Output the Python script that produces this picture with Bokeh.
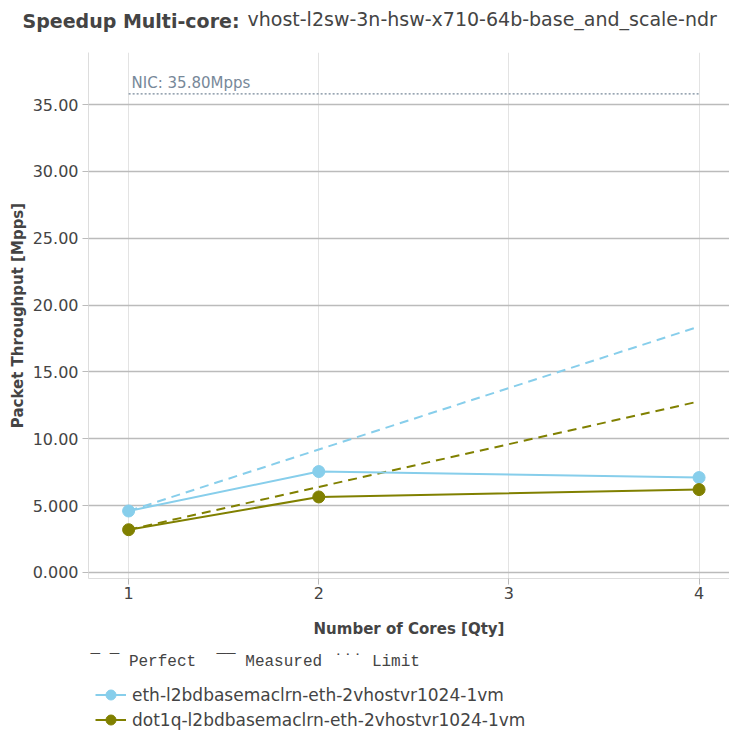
from bokeh.plotting import figure
from bokeh.layouts import column
from bokeh.models import (Range1d, FixedTicker, Label, Legend, LegendItem)
from bokeh.embed import file_html
from bokeh.resources import INLINE

cores = [1, 2, 4]
eth_measured = [4.6, 7.55, 7.1]
dot1q_measured = [3.2, 5.65, 6.2]
eth_perfect = [4.6, 9.2, 18.4]
dot1q_perfect = [3.2, 6.4, 12.8]
nic_x = [1, 4]
nic_limit = [35.8, 35.8]
y_ticks = [0, 5, 10, 15, 20, 25, 30, 35]
y_tick_labels = ["0.000", "5.000", "10.00", "15.00", "20.00", "25.00", "30.00", "35.00"]
x_ticks = [1, 2, 3, 4]
eth_name = "eth-l2bdbasemaclrn-eth-2vhostvr1024-1vm"
dot1q_name = "dot1q-l2bdbasemaclrn-eth-2vhostvr1024-1vm"
title_bold = "Speedup Multi-core:"
title_rest = "vhost-l2sw-3n-hsw-x710-64b-base_and_scale-ndr"
style_keys = ["\u00af \u00af Perfect", "\u00af\u00af Measured", "\u02d9\u02d9\u02d9 Limit"]

TXT = "#444444"
FONT = "DejaVu Sans"
ETH_C = "#87CEEB"
DOT_C = "#808000"
W = 729

p = figure(width=W, height=642, output_backend="svg", toolbar_location=None,
           x_range=Range1d(0.789, 4.16), y_range=Range1d(-0.45, 38.9),
           min_border_left=88, min_border_top=52, min_border_bottom=64, min_border_right=0)
p.title = None
p.outline_line_color = None

p.xaxis.ticker = FixedTicker(ticks=x_ticks)
p.yaxis.ticker = FixedTicker(ticks=y_ticks)
p.yaxis.major_label_overrides = {t_: l for t_, l in zip(y_ticks, y_tick_labels)}
for ax in (p.xaxis[0], p.yaxis[0]):
    ax.axis_line_color = "#dddddd"
    ax.major_tick_line_color = "#bbbbbb"
    ax.major_tick_out = 6
    ax.major_tick_in = 0
    ax.minor_tick_line_color = None
    ax.major_label_text_font = FONT
    ax.major_label_text_font_size = "16px"
    ax.major_label_text_color = TXT
    ax.axis_label_text_font = FONT
    ax.axis_label_text_font_size = "15px"
    ax.axis_label_text_font_style = "bold"
    ax.axis_label_text_color = TXT
p.xaxis.axis_label = "Number of Cores [Qty]"
p.yaxis.axis_label = "Packet Throughput [Mpps]"
p.xaxis.major_label_standoff = 2
p.xaxis.axis_label_standoff = 18
p.yaxis.major_label_standoff = 4
p.yaxis.axis_label_standoff = 3

p.xgrid.grid_line_color = "#e3e3e3"
p.ygrid.grid_line_color = "#bbbbbb"
p.ygrid.grid_line_width = 1.3

# NIC limit
p.line(nic_x, nic_limit, line_color="#778899", line_dash="2 2", line_width=1.2)
p.add_layout(Label(x=nic_x[0], y=nic_limit[0], text="NIC: 35.80Mpps", text_font=FONT,
                   text_font_size="15px", text_color="#778899", x_offset=3, y_offset=2,
                   text_baseline="bottom"))

# perfect
p.line(cores, eth_perfect, line_color=ETH_C, line_dash="9 6", line_width=2)
p.line(cores, dot1q_perfect, line_color=DOT_C, line_dash="9 6", line_width=2)

# measured
p.line(cores, eth_measured, line_color=ETH_C, line_width=2)
p.scatter(cores, eth_measured, size=12, fill_color=ETH_C, line_color=ETH_C)
p.line(cores, dot1q_measured, line_color=DOT_C, line_width=2)
p.scatter(cores, dot1q_measured, size=12, fill_color=DOT_C, line_color=DOT_C)

# title as labels in the top panel
p.add_layout(Label(x=-66, y=32, x_units="screen", y_units="screen",
                   text=title_bold, text_font=FONT, text_font_style="bold",
                   text_font_size="19px", text_color=TXT, text_baseline="middle"), "above")
p.add_layout(Label(x=159, y=12, x_units="screen", y_units="screen",
                   text=title_rest, text_font=FONT,
                   text_font_size="19px", text_color=TXT, text_baseline="middle"), "above")

# legend strip (the series are drawn outside its visible range; only the legend shows)
lg = figure(width=W, height=93, output_backend="svg", toolbar_location=None,
            x_range=Range1d(0, 1), y_range=Range1d(-2, -1),
            min_border_left=88, min_border_top=0, min_border_bottom=0, min_border_right=0)
lg.axis.visible = False
lg.grid.visible = False
lg.outline_line_color = None
lg.title = None
e_l = lg.line(cores, eth_measured, line_color=ETH_C, line_width=2)
e_c = lg.scatter(cores, eth_measured, size=12, fill_color=ETH_C, line_color=ETH_C)
o_l = lg.line(cores, dot1q_measured, line_color=DOT_C, line_width=2)
o_c = lg.scatter(cores, dot1q_measured, size=12, fill_color=DOT_C, line_color=DOT_C)

for txt, sx in zip(style_keys, [2, 128, 245]):
    lg.add_layout(Label(x=sx, y=74, x_units="screen", y_units="screen", text=txt,
                        text_font="Liberation Mono", text_font_size="16px",
                        text_color=TXT, text_baseline="middle"))

leg2 = Legend(items=[LegendItem(label=eth_name, renderers=[e_l, e_c]),
                     LegendItem(label=dot1q_name, renderers=[o_l, o_c])],
              orientation="vertical", location=(7, 3), padding=0, margin=0,
              spacing=0, glyph_width=31, glyph_height=25, label_height=25,
              label_text_font=FONT, label_text_font_size="17px",
              label_text_color=TXT, background_fill_alpha=0, border_line_color=None,
              label_standoff=6)
lg.add_layout(leg2)

layout = column(p, lg, spacing=0)
open("out.html", "w").write(file_html(layout, INLINE))
